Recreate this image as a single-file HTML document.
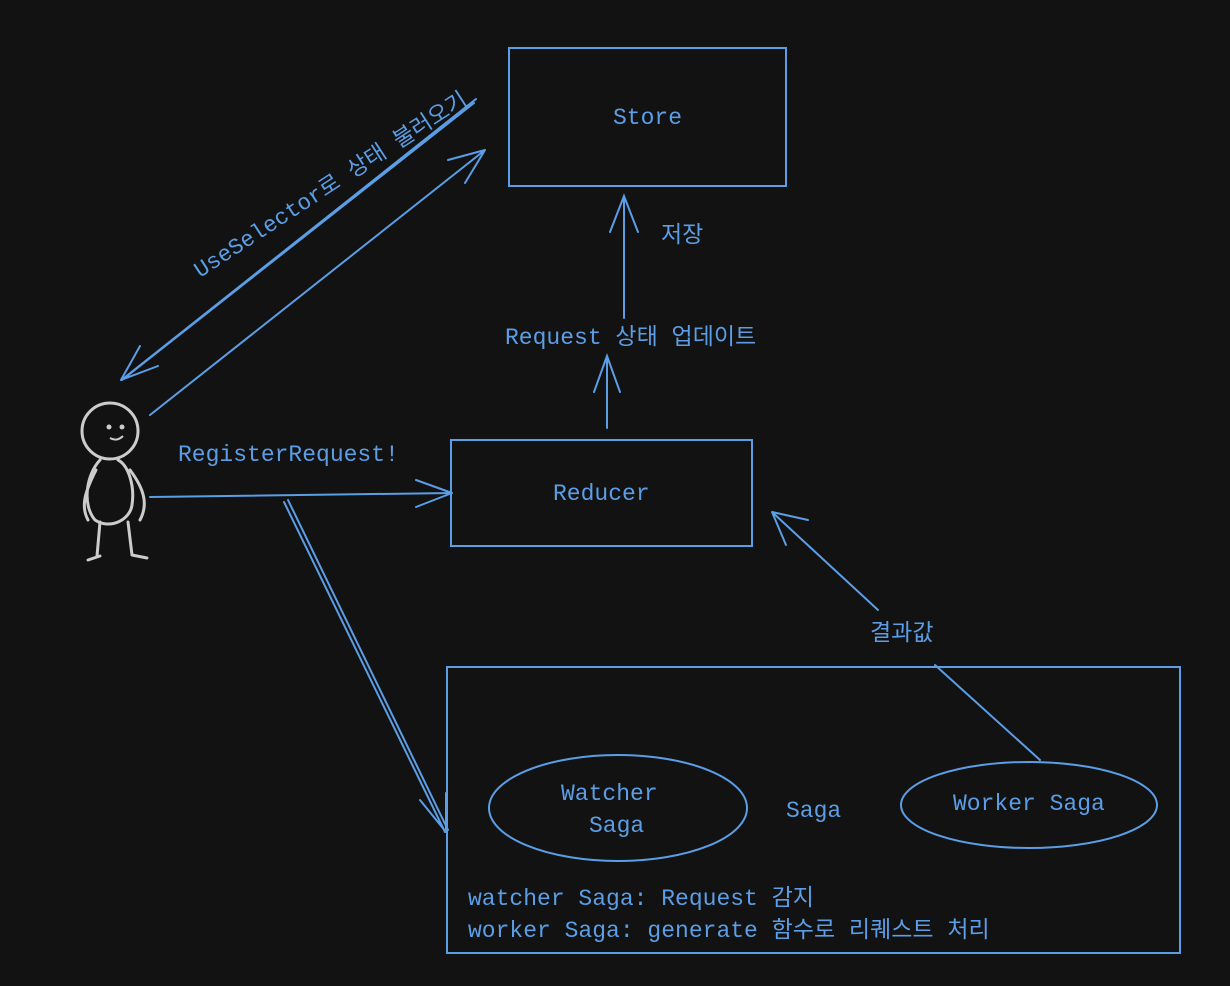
<!DOCTYPE html>
<html><head><meta charset="utf-8"><style>
html,body{margin:0;padding:0;background:#121212;}
svg{display:block}
text{font-family:"Liberation Mono","Noto Sans CJK KR",monospace;fill:#5b9ee6;font-size:23px;}
</style></head><body>
<svg width="1230" height="986" viewBox="0 0 1230 986" xmlns="http://www.w3.org/2000/svg">
<rect width="1230" height="986" fill="#121212"/>
<g fill="none" stroke="#5b9ee6" stroke-width="2" stroke-linecap="round">
<rect x="509" y="48" width="277" height="138"/>
<rect x="451" y="440" width="301" height="106"/>
<rect x="447" y="667" width="733" height="286"/>
<ellipse cx="618" cy="808" rx="129" ry="53"/>
<ellipse cx="1029" cy="805" rx="128" ry="43"/>
<path d="M624 318 L624 198 M610 232 L624 196 L638 232"/>
<path d="M607 428 L607 358 M594 392 L607 356 L620 392"/>
<path d="M474 103 L122 380 M121 380 L140 346 M121 380 L158 366"/>
<path d="M476 99 L124 378"/>
<path d="M150 415 L485 150 M448 160 L485 150 M465 183 L485 150"/>
<path d="M150 497 L452 493 M416 480 L452 493 M416 507 L452 493"/>
<path d="M284 502 L445 832 M288 500 L448 830 M420 800 L446 832 M446 793 L446 832"/>
<path d="M1040 760 L935 665"/>
<path d="M878 610 L772 512 M772 512 L808 520 M772 512 L786 545"/>
</g>
<g fill="none" stroke="#cccccc" stroke-width="3" stroke-linecap="round">
<circle cx="110" cy="431" r="28"/>
<path d="M100 460 C86 475 82 505 95 520 C110 530 130 520 132 505 C135 485 128 465 118 460"/>
<path d="M96 470 C86 490 80 505 88 520 M130 470 C145 490 148 505 140 520"/>
<path d="M100 522 L97 556 M88 560 L100 556 M128 522 L132 555 M132 555 L147 558"/>
</g>
<circle cx="109" cy="427" r="2.5" fill="#ccc"/><circle cx="122" cy="427" r="2.5" fill="#ccc"/>
<path d="M110 438 Q117 442 123 436" stroke="#ccc" stroke-width="2" fill="none"/>
<text x="613" y="124">Store</text>
<text x="661" y="242">저장</text>
<text x="505" y="344">Request 상태 업데이트</text>
<text x="553" y="500">Reducer</text>
<text x="178" y="461">RegisterRequest!</text>
<text x="870" y="640">결과값</text>
<text x="561" y="800">Watcher</text>
<text x="589" y="832">Saga</text>
<text x="786" y="817">Saga</text>
<text x="953" y="810">Worker Saga</text>
<text x="468" y="905">watcher Saga: Request 감지</text>
<text x="468" y="937">worker Saga: generate 함수로 리퀘스트 처리</text>
<text transform="translate(200 278) rotate(-33)" style="font-size:22.5px">UseSelector로 상태 불러오기</text>
</svg>
</body></html>
